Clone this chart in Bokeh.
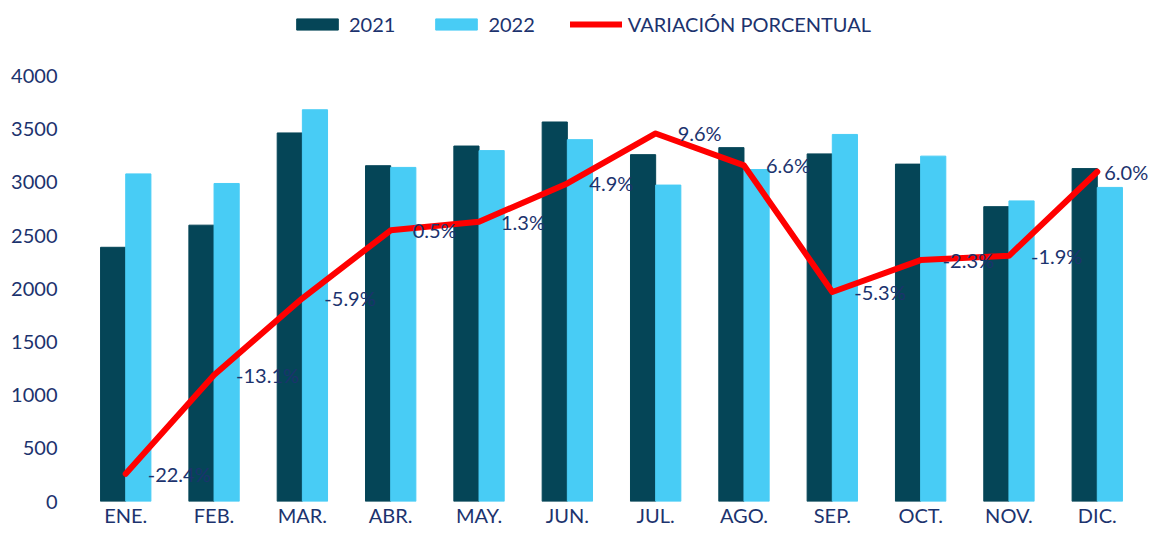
from bokeh.plotting import figure
from bokeh.models import (ColumnDataSource, FactorRange, Range1d, Legend, LegendItem,
                          FixedTicker)
from bokeh.core.properties import value
from bokeh.transform import dodge
from bokeh.embed import file_html
from bokeh.resources import INLINE

months = ["ENE.", "FEB.", "MAR.", "ABR.", "MAY.", "JUN.", "JUL.", "AGO.", "SEP.", "OCT.", "NOV.", "DIC."]
v2021 = [2390, 2598, 3465, 3157, 3342, 3568, 3261, 3327, 3268, 3172, 2772, 3130]
v2022 = [3080, 2990, 3683, 3141, 3299, 3402, 2975, 3121, 3451, 3247, 2826, 2953]
variacion = [-22.4, -13.1, -5.9, 0.5, 1.3, 4.9, 9.6, 6.6, -5.3, -2.3, -1.9, 6.0]
var_labels = [f"{v:.1f}%" for v in variacion]
y_ticks = list(range(0, 4001, 500))

DARK = "#054557"
LIGHT = "#48CCF5"
RED = "#FF0000"
NAVY = "#1C336E"
FONT = "Lato"

# frame spans the full height; the axes stop at 4000 / 15 % 76 px below its top
FRAME_H = 504
AXIS_H = 428
y_top = 4000 * FRAME_H / AXIS_H
pct_top = -25 + 40 * FRAME_H / AXIS_H

# label offsets (last one pulled in so it stays inside the canvas)
lbl_dx = [22] * (len(months) - 1) + [7]

src = ColumnDataSource(dict(month=months, v2021=v2021, v2022=v2022,
                            pct=variacion, lbl=var_labels, dx=lbl_dx))

p = figure(x_range=FactorRange(*months, range_padding=0.08, range_padding_units="absolute"),
           y_range=Range1d(0, y_top),
           width=1148, height=529, output_backend="svg", toolbar_location=None,
           min_border_left=74, min_border_right=0, min_border_top=0, min_border_bottom=25)
p.extra_y_ranges = {"pct": Range1d(-25, pct_top)}

r1 = p.vbar(x=dodge("month", -0.1425, range=p.x_range), top="v2021", width=0.285,
            source=src, fill_color=DARK, line_color=DARK, level="underlay")
r2 = p.vbar(x=dodge("month", 0.1425, range=p.x_range), top="v2022", width=0.285,
            source=src, fill_color=LIGHT, line_color=LIGHT, level="underlay")
r3 = p.line(x="month", y="pct", y_range_name="pct", source=src, line_color=RED,
            line_width=6, line_join="round", line_cap="round")
p.text(x="month", y="pct", y_range_name="pct", text="lbl", source=src,
       x_offset="dx", text_align="left", text_baseline="middle",
       text_font=value(FONT), text_font_size="20px", text_color=NAVY)

legend = Legend(items=[LegendItem(label="2021", renderers=[r1]),
                       LegendItem(label="2022", renderers=[r2]),
                       LegendItem(label="VARIACIÓN PORCENTUAL", renderers=[r3])],
                orientation="horizontal", location=(217, 465),
                border_line_color=None, background_fill_alpha=0, padding=0, margin=0,
                glyph_width=52, glyph_height=14, label_standoff=6, spacing=35,
                label_text_font=FONT, label_text_font_size="20px", label_text_color=NAVY)
p.add_layout(legend)

p.xgrid.grid_line_color = None
p.ygrid.grid_line_color = None
p.outline_line_color = None

p.yaxis.ticker = FixedTicker(ticks=y_ticks)
for ax in (p.xaxis, p.yaxis):
    ax.axis_line_color = None
    ax.major_tick_line_color = None
    ax.minor_tick_line_color = None
    ax.major_tick_out = 0
    ax.major_tick_in = 0
    ax.minor_tick_out = 0
    ax.major_label_text_font = FONT
    ax.major_label_text_font_size = "20px"
    ax.major_label_text_color = NAVY
p.yaxis.major_label_standoff = 17
p.xaxis.major_label_standoff = 1

open("out.html", "w").write(file_html(p, INLINE))
